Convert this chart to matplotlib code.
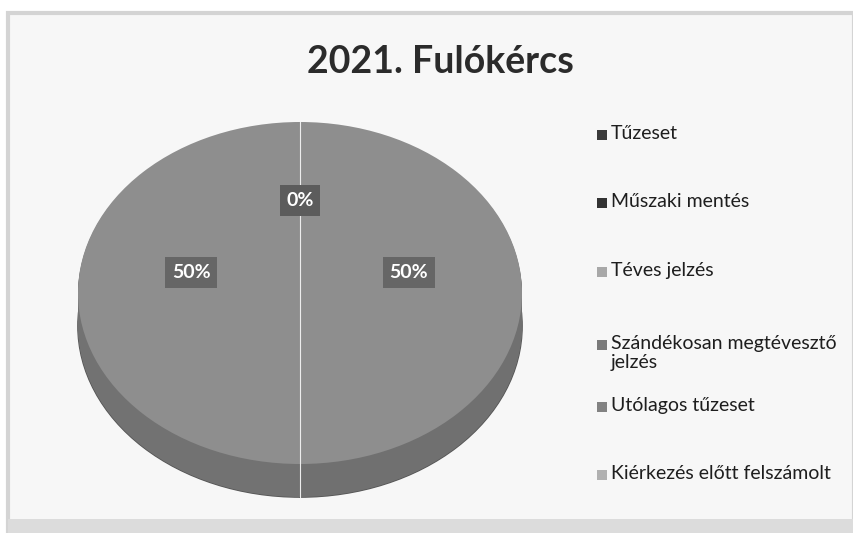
import matplotlib
matplotlib.use("Agg")
import matplotlib.pyplot as plt
from matplotlib.patches import Rectangle
import numpy as np

title = "2021. Fulókércs"
categories = ["Tűzeset", "Műszaki mentés", "Téves jelzés",
              "Szándékosan megtévesztő\njelzés", "Utólagos tűzeset",
              "Kiérkezés előtt felszámolt"]
values = [0, 0, 1, 0, 0, 1]
top_colors = ["#3a3a3a", "#333333", "#8e8e8e", "#7a7a7a", "#7c7c7c", "#8e8e8e"]
side_colors = ["#2a2a2a", "#262626", "#707070", "#666666", "#666666", "#727272"]
legend_colors = ["#3a3a3a", "#333333", "#a8a8a8", "#7a7a7a", "#828282", "#b0b0b0"]

W, H = 854, 533
fig = plt.figure(figsize=(W / 100, H / 100), dpi=100)
fig.patch.set_facecolor("white")
FONT = ["Lato", "DejaVu Sans"]

# scanned frame
fig.patches.append(Rectangle((8 / W, 0), (W - 8) / W, (H - 13) / H, transform=fig.transFigure,
                             facecolor="#f7f7f7", edgecolor="#d4d4d4", linewidth=3, zorder=-2))
fig.patches.append(Rectangle((8 / W, 0), (W - 8) / W, 14 / H, transform=fig.transFigure,
                             facecolor="#dcdcdc", edgecolor="none", zorder=-1))

# pie geometry (pixels)
cx, cy = 300, 293
rx, ry = 222, 171
depth = 33 / ry
lim = 1.2
ax = fig.add_axes([(cx - lim * rx) / W, (H - cy - lim * ry) / H, 2 * lim * rx / W, 2 * lim * ry / H])
ax.set_zorder(1)

n_layers = 30
# dark outline at the base of the side
ax.pie(values, colors=side_colors, startangle=90, counterclock=False, center=(0, -depth),
       wedgeprops=dict(edgecolor="#555555", linewidth=1.2))
for i in range(n_layers, 0, -1):
    dy = -depth * i / n_layers
    ax.pie(values, colors=side_colors, startangle=90, counterclock=False, center=(0, dy),
           wedgeprops=dict(edgecolor="none", linewidth=0))

wedges, texts, autotexts = ax.pie(
    values, colors=top_colors, startangle=90, counterclock=False,
    autopct=lambda p: f"{p:.0f}%" if p > 0 else "", pctdistance=0.49,
    wedgeprops=dict(edgecolor="none", linewidth=0))
# slice boundary seam
ax.plot([0, 0], [-1 - depth, 1], color="#ededed", linewidth=0.8)

box = dict(boxstyle="square,pad=0.35", facecolor="#666666", edgecolor="none")
for t in autotexts:
    if t.get_text():
        x0, y0 = t.get_position()
        t.set_position((x0, y0 + 0.12))
        t.set_color("white")
        t.set_fontsize(14)
        t.set_fontweight("bold")
        t.set_family(FONT)
        t.set_bbox(box)
# zero-value label at the top of the pie
zero_pct = f"{100 * values[0] / sum(values):.0f}%"
ax.text(0, 0.54, zero_pct, ha="center", va="center", color="white", fontsize=14,
        fontweight="bold", family=FONT,
        bbox=dict(boxstyle="square,pad=0.35", facecolor="#5c5c5c", edgecolor="none"))

ax.set_aspect("auto")
ax.set_xlim(-lim, lim)
ax.set_ylim(-lim, lim)
ax.axis("off")

fig.text(440 / W, 1 - 62 / H, title, ha="center", va="center", fontsize=27,
         fontweight="bold", color="#2b2b2b", family=FONT)

# legend
rows_y = [135, 203, 272, 345, 407, 475]
for lab, col, y in zip(categories, legend_colors, rows_y):
    fig.patches.append(Rectangle((597 / W, 1 - (y + 5) / H), 10 / W, 10 / H,
                                 transform=fig.transFigure, facecolor=col, edgecolor="none"))
    fig.text(611 / W, 1 - (y - 10) / H, lab, ha="left", va="top", fontsize=14,
             color="#1e1e1e", family=FONT, linespacing=1.15)

fig.savefig("out.png", dpi=100, facecolor=fig.get_facecolor())
